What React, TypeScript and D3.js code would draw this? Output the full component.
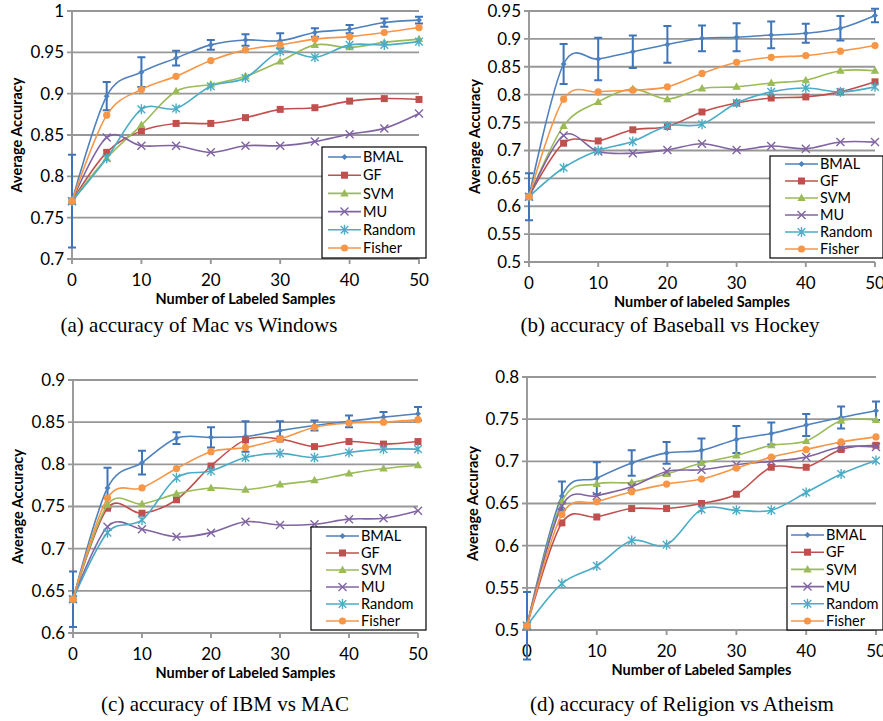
import React from "react";
import * as d3 from "d3";

// x values shared by every panel
const samples = [0, 5, 10, 15, 20, 25, 30, 35, 40, 45, 50];
const xTicks = [0, 10, 20, 30, 40, 50];
const methods = ["BMAL", "GF", "SVM", "MU", "Random", "Fisher"];
const colors = ["#4F81BD", "#C0504D", "#9BBB59", "#8064A2", "#4BACC6", "#F79646"];
const markers = ["diamond", "square", "triangle", "x", "star", "circle"];

// (a) Mac vs Windows
const macBMAL = [0.770, 0.897, 0.926, 0.943, 0.959, 0.965, 0.964, 0.974, 0.978, 0.986, 0.989];
const macErr = [0.056, 0.017, 0.018, 0.009, 0.006, 0.007, 0.009, 0.005, 0.005, 0.005, 0.004];
const macGF = [0.770, 0.829, 0.855, 0.864, 0.864, 0.871, 0.881, 0.883, 0.891, 0.894, 0.893];
const macSVM = [0.770, 0.822, 0.862, 0.903, 0.911, 0.921, 0.939, 0.959, 0.956, 0.962, 0.966];
const macMU = [0.770, 0.847, 0.837, 0.837, 0.829, 0.837, 0.837, 0.842, 0.851, 0.858, 0.876];
const macRandom = [0.770, 0.822, 0.881, 0.882, 0.909, 0.919, 0.951, 0.944, 0.959, 0.959, 0.963];
const macFisher = [0.770, 0.874, 0.905, 0.921, 0.940, 0.953, 0.959, 0.966, 0.969, 0.974, 0.980];

// (b) Baseball vs Hockey
const bbBMAL = [0.617, 0.855, 0.864, 0.877, 0.890, 0.901, 0.903, 0.907, 0.910, 0.919, 0.942];
const bbErr = [0.042, 0.036, 0.038, 0.029, 0.033, 0.023, 0.025, 0.024, 0.017, 0.022, 0.012];
const bbGF = [0.617, 0.713, 0.717, 0.737, 0.743, 0.769, 0.785, 0.794, 0.796, 0.805, 0.823];
const bbSVM = [0.617, 0.744, 0.787, 0.810, 0.792, 0.811, 0.814, 0.821, 0.826, 0.843, 0.843];
const bbMU = [0.617, 0.727, 0.698, 0.695, 0.701, 0.712, 0.701, 0.708, 0.703, 0.715, 0.715];
const bbRandom = [0.617, 0.669, 0.700, 0.716, 0.744, 0.747, 0.785, 0.805, 0.812, 0.805, 0.814];
const bbFisher = [0.617, 0.792, 0.805, 0.808, 0.814, 0.838, 0.858, 0.867, 0.870, 0.878, 0.888];

// (c) IBM vs MAC
const ibmBMAL = [0.640, 0.772, 0.802, 0.831, 0.832, 0.833, 0.840, 0.846, 0.851, 0.856, 0.860];
const ibmErr = [0.033, 0.024, 0.014, 0.007, 0.012, 0.018, 0.011, 0.006, 0.007, 0.006, 0.008];
const ibmGF = [0.640, 0.748, 0.742, 0.758, 0.798, 0.829, 0.830, 0.821, 0.827, 0.824, 0.827];
const ibmSVM = [0.640, 0.752, 0.753, 0.765, 0.772, 0.770, 0.776, 0.781, 0.789, 0.795, 0.799];
const ibmMU = [0.640, 0.726, 0.723, 0.714, 0.719, 0.732, 0.728, 0.729, 0.735, 0.736, 0.745];
const ibmRandom = [0.640, 0.719, 0.734, 0.784, 0.792, 0.808, 0.813, 0.808, 0.814, 0.818, 0.818];
const ibmFisher = [0.640, 0.760, 0.772, 0.795, 0.815, 0.820, 0.830, 0.844, 0.849, 0.850, 0.853];

// (d) Religion vs Atheism
const relBMAL = [0.505, 0.659, 0.680, 0.698, 0.710, 0.713, 0.726, 0.733, 0.743, 0.752, 0.760];
const relErr = [0.040, 0.017, 0.019, 0.015, 0.013, 0.014, 0.016, 0.013, 0.013, 0.013, 0.011];
const relGF = [0.505, 0.627, 0.634, 0.644, 0.644, 0.650, 0.661, 0.693, 0.693, 0.714, 0.719];
const relSVM = [0.505, 0.652, 0.673, 0.675, 0.685, 0.698, 0.707, 0.719, 0.724, 0.748, 0.749];
const relMU = [0.505, 0.647, 0.659, 0.670, 0.688, 0.690, 0.696, 0.700, 0.705, 0.717, 0.717];
const relRandom = [0.505, 0.555, 0.576, 0.606, 0.601, 0.643, 0.642, 0.642, 0.663, 0.685, 0.701];
const relFisher = [0.505, 0.637, 0.652, 0.664, 0.673, 0.679, 0.692, 0.705, 0.714, 0.723, 0.729];

const panels = [
  {
    series: [macBMAL, macGF, macSVM, macMU, macRandom, macFisher], err: macErr,
    yDomain: [0.7, 1], plot: { l: 72, r: 419, t: 11, b: 259 },
    xTitle: "Number of Labeled Samples", caption: "(a) accuracy of Mac vs Windows", capX: 199, capY: 332, yTitleX: 17,
    legend: { x: 322, y: 147, w: 104, h: 111, row0: 157, gap: 18.2, lx: 328 },
  },
  {
    series: [bbBMAL, bbGF, bbSVM, bbMU, bbRandom, bbFisher], err: bbErr,
    yDomain: [0.5, 0.95], plot: { l: 529, r: 875, t: 11, b: 262 },
    xTitle: "Number of labeled Samples", caption: "(b) accuracy of Baseball vs Hockey", capX: 670, capY: 332, yTitleX: 475,
    legend: { x: 770, y: 156, w: 113, h: 102, row0: 164, gap: 17, lx: 785 },
  },
  {
    series: [ibmBMAL, ibmGF, ibmSVM, ibmMU, ibmRandom, ibmFisher], err: ibmErr,
    yDomain: [0.6, 0.9], plot: { l: 73, r: 418, t: 380, b: 633 },
    xTitle: "Number of Labeled Samples", caption: "(c) accuracy of IBM vs MAC", capX: 225, capY: 711, yTitleX: 18,
    legend: { x: 311, y: 527, w: 115, h: 103, row0: 536, gap: 17, lx: 326 },
  },
  {
    series: [relBMAL, relGF, relSVM, relMU, relRandom, relFisher], err: relErr,
    yDomain: [0.5, 0.8], plot: { l: 527, r: 876, t: 377, b: 630 },
    xTitle: "Number of Labeled Samples", caption: "(d) accuracy of Religion vs Atheism", capX: 682, capY: 711, yTitleX: 473,
    legend: { x: 787, y: 526, w: 96, h: 104, row0: 535, gap: 17.2, lx: 791 },
  },
];

const sansFont = "Lato, 'Open Sans', sans-serif";
const gridColor = "#979797";

function Marker({ kind, x, y, color }: { kind: string; x: number; y: number; color: string }) {
  if (kind === "diamond") {
    return <path d={`M${x},${y - 3}L${x + 3},${y}L${x},${y + 3}L${x - 3},${y}Z`} fill={color} />;
  }
  if (kind === "square") {
    return <rect x={x - 3.5} y={y - 3.5} width={7} height={7} fill={color} />;
  }
  if (kind === "triangle") {
    return <path d={`M${x},${y - 4.5}L${x + 4.2},${y + 3}L${x - 4.2},${y + 3}Z`} fill={color} />;
  }
  if (kind === "x") {
    return (
      <path d={`M${x - 4},${y - 4}L${x + 4},${y + 4}M${x - 4},${y + 4}L${x + 4},${y - 4}`}
        stroke={color} strokeWidth={1.4} fill="none" />
    );
  }
  if (kind === "star") {
    return (
      <path d={`M${x - 3.8},${y - 3.8}L${x + 3.8},${y + 3.8}M${x - 3.8},${y + 3.8}L${x + 3.8},${y - 3.8}M${x},${y - 5}L${x},${y + 5}`}
        stroke={color} strokeWidth={1.4} fill="none" />
    );
  }
  return <circle cx={x} cy={y} r={3.6} fill={color} />;
}

function Panel({ p }: { p: (typeof panels)[number] }) {
  const x = d3.scaleLinear().domain([0, 50]).range([p.plot.l, p.plot.r]);
  const y = d3.scaleLinear().domain(p.yDomain).range([p.plot.b, p.plot.t]);
  const nTicks = Math.round((p.yDomain[1] - p.yDomain[0]) / 0.05);
  const yTicks = d3.range(nTicks + 1).map((i) => +(p.yDomain[0] + i * 0.05).toFixed(2));
  const fmt = d3.format(".2~f");
  const line = d3
    .line<number>()
    .x((_, i) => x(samples[i]))
    .y((d) => y(d))
    .curve(d3.curveCatmullRom.alpha(0));
  const midY = (p.plot.t + p.plot.b) / 2;
  const lg = p.legend;

  return (
    <g>
      {/* horizontal grid lines with left ticks */}
      {yTicks.map((t) => (
        <g key={t}>
          <line x1={p.plot.l - 5} x2={p.plot.r} y1={y(t)} y2={y(t)} stroke={gridColor} strokeWidth={1.9} />
          <text x={p.plot.l - 8} y={y(t)} dy="0.35em" textAnchor="end" fontFamily={sansFont} fontSize={17} fill="#000">
            {fmt(t)}
          </text>
        </g>
      ))}
      {/* axes */}
      <line x1={p.plot.l} x2={p.plot.l} y1={p.plot.t} y2={p.plot.b} stroke={gridColor} strokeWidth={1.9} />
      {xTicks.map((t) => (
        <g key={t}>
          <line x1={x(t)} x2={x(t)} y1={p.plot.b} y2={p.plot.b + 5} stroke={gridColor} strokeWidth={1.9} />
          <text x={x(t)} y={p.plot.b + 27} textAnchor="middle" fontFamily={sansFont} fontSize={17} fill="#000">
            {t}
          </text>
        </g>
      ))}
      <text x={(p.plot.l + p.plot.r) / 2} y={p.plot.b + 45} textAnchor="middle" fontFamily={sansFont}
        fontWeight="bold" fontSize={14.5} fill="#000">
        {p.xTitle}
      </text>
      <text transform={`translate(${p.yTitleX},${midY}) rotate(-90)`} textAnchor="middle" dy="0.35em"
        fontFamily={sansFont} fontWeight="bold" fontSize={14.5} fill="#000">
        Average Accuracy
      </text>

      {/* series */}
      {p.series.map((vals, si) => (
        <g key={si}>
          {si === 0 &&
            vals.map((v, i) => (
              <path key={i}
                d={`M${x(samples[i]) - 4},${y(v + p.err[i])}H${x(samples[i]) + 4}M${x(samples[i])},${y(v + p.err[i])}V${y(v - p.err[i])}M${x(samples[i]) - 4},${y(v - p.err[i])}H${x(samples[i]) + 4}`}
                stroke="#3F74B9" strokeWidth={2} fill="none" />
            ))}
          <path d={line(vals) || ""} fill="none" stroke={colors[si]} strokeWidth={1.6} />
          {vals.map((v, i) => (
            <Marker key={i} kind={markers[si]} x={x(samples[i])} y={y(v)} color={colors[si]} />
          ))}
        </g>
      ))}

      {/* legend */}
      <rect x={lg.x} y={lg.y} width={lg.w} height={lg.h} fill="#fff" stroke="#000" strokeWidth={1.2} />
      {methods.map((m, i) => {
        const ry = lg.row0 + i * lg.gap;
        return (
          <g key={m}>
            <line x1={lg.lx} x2={lg.lx + 33} y1={ry} y2={ry} stroke={colors[i]} strokeWidth={1.6} />
            <Marker kind={markers[i]} x={lg.lx + 16.5} y={ry} color={colors[i]} />
            <text x={lg.lx + 35} y={ry} dy="0.36em" fontFamily={sansFont} fontSize={14.5} fill="#000">
              {m}
            </text>
          </g>
        );
      })}

      <text x={p.capX} y={p.capY} textAnchor="middle" fontFamily="'Liberation Serif', serif" fontSize={21} fill="#000">
        {p.caption}
      </text>
    </g>
  );
}

export default function App() {
  return (
    <svg width={883} height={721} style={{ position: "absolute", left: 0, top: 0, background: "#fff" }}>
      <rect width={883} height={721} fill="#fff" />
      {panels.map((p, i) => (
        <Panel key={i} p={p} />
      ))}
    </svg>
  );
}
